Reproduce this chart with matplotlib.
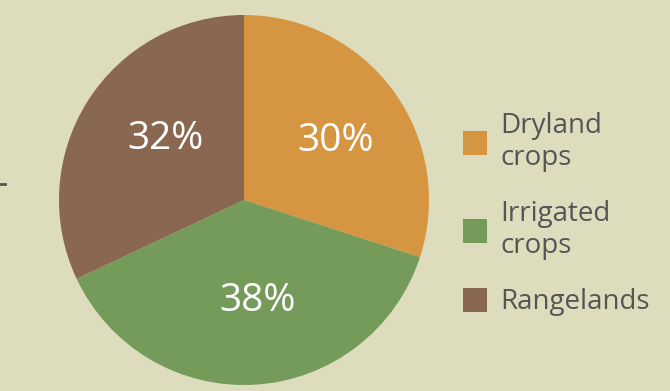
import matplotlib
matplotlib.use("Agg")
import matplotlib.pyplot as plt
from matplotlib.lines import Line2D
from matplotlib.transforms import offset_copy

categories = ["Dryland\ncrops", "Irrigated\ncrops", "Rangelands"]
shares = [30, 38, 32]
colors = ["#D69641", "#759B5B", "#8A6751"]
bg = "#DDDDBD"

# fine placement nudges for the percentage labels, in points
label_nudge = [(3.6, -2.9), (5.0, 4.3), (8.6, 2.2)]

plt.rcParams["font.family"] = ["Open Sans", "DejaVu Sans"]

fig = plt.figure(figsize=(6.70, 3.91), dpi=100, facecolor=bg)
ax = fig.add_axes([59 / 670, 6 / 391, 370 / 670, 370 / 391])
ax.set_facecolor(bg)

wedges, _, autotexts = ax.pie(
    shares, colors=colors, startangle=90, counterclock=False,
    radius=1.0, autopct="%.0f%%", pctdistance=0.58,
    textprops=dict(color="white", fontsize=28),
)
for t, (dx, dy) in zip(autotexts, label_nudge):
    t.set_transform(offset_copy(t.get_transform(), fig=fig, x=dx, y=dy, units="points"))

ax.set_xlim(-1, 1)
ax.set_ylim(-1, 1)
ax.set_aspect("equal")
ax.axis("off")

leg = fig.legend(
    wedges, categories, loc="upper left",
    bbox_to_anchor=(463 / 670, 1 - 112 / 391),
    frameon=False, fontsize=20, labelcolor="#555555",
    handlelength=0.85, handleheight=0.95, handletextpad=0.5,
    labelspacing=1.0, borderpad=0, borderaxespad=0,
)

# short tick mark at the left edge
fig.add_artist(Line2D([0, 5 / 670], [1 - 184 / 391, 1 - 184 / 391],
                      color="#555555", linewidth=2, transform=fig.transFigure))

fig.savefig("out.png", dpi=100, facecolor=bg)
